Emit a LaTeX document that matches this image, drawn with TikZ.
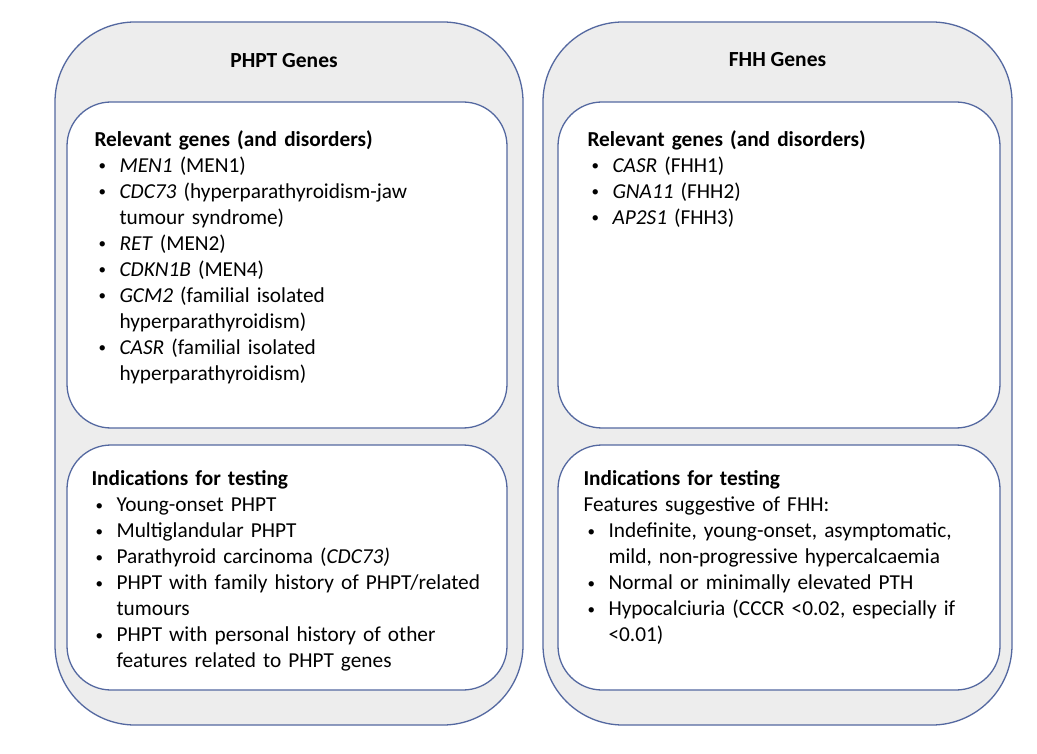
\documentclass[tikz,border=0pt]{standalone}
\usepackage{fontspec}
\setmainfont{Carlito}
\usetikzlibrary{positioning}

\definecolor{boxline}{RGB}{84,104,160}
\definecolor{boxfill}{RGB}{237,237,237}

% bullet line with hanging indent
\newcommand{\gbullet}{\par\noindent\hangindent=25pt\hangafter=1\hbox to 25pt{\hskip4pt\raisebox{1.5pt}{\fontsize{15}{15}\selectfont\textbullet}\hfil}}
\newcommand{\gbreak}{\hfil\break}

\begin{document}
\begin{tikzpicture}[
    x=1pt, y=-1pt,
    outerbox/.style={rectangle, draw=boxline, fill=boxfill, line width=1.3pt, rounded corners=80pt, minimum width=468pt, minimum height=703pt},
    innerbox/.style={rectangle, draw=boxline, fill=white, line width=1.3pt, rounded corners=44pt, minimum width=440pt},
    title/.style={font=\fontsize{21.5}{24}\selectfont\bfseries, inner sep=0pt},
    txt/.style={inner sep=0pt, text width=420pt, font=\fontsize{21.3}{26}\selectfont}
]
\useasboundingbox[fill=white] (0,0) rectangle (1037,754);

% outer panels
\node[outerbox] (phpt) at (289,373.5) {};
\node[outerbox, minimum width=469pt] (fhh) at (777.5,373.5) {};

\node[title] (phpttitle) at (284,61) {PHPT Genes};
\node[title] (fhhtitle) at (777.5,60) {FHH Genes};

% inner boxes
\node[innerbox, minimum height=326pt] (phptgenes) at (287,265) {};
\node[innerbox, minimum height=245pt] (phpttest) at (287,567.5) {};
\node[innerbox, minimum width=442pt, minimum height=326pt] (fhhgenes) at (779,265) {};
\node[innerbox, minimum width=442pt, minimum height=245pt] (fhhtest) at (779,567.5) {};

% texts
\node[txt, below right=29pt and 28pt of phptgenes.north west] (phptgenestxt) {%
    \textbf{Relevant genes (and disorders)}
    \gbullet\textit{MEN1} (MEN1)
    \gbullet\textit{CDC73} (hyperparathyroidism-jaw\gbreak tumour syndrome)
    \gbullet\textit{RET} (MEN2)
    \gbullet\textit{CDKN1B} (MEN4)
    \gbullet\textit{GCM2} (familial isolated\gbreak hyperparathyroidism)
    \gbullet\textit{CASR} (familial isolated\gbreak hyperparathyroidism)\par};

\node[txt, below right=26pt and 25pt of phpttest.north west] (phpttesttxt) {%
    \textbf{Indications for testing}
    \gbullet Young-onset PHPT
    \gbullet Multiglandular PHPT
    \gbullet Parathyroid carcinoma (\textit{CDC73)}
    \gbullet PHPT with family history of PHPT/related\gbreak tumours
    \gbullet PHPT with personal history of other\gbreak features related to PHPT genes\par};

\node[txt, below right=29pt and 30pt of fhhgenes.north west] (fhhgenestxt) {%
    \textbf{Relevant genes (and disorders)}
    \gbullet\textit{CASR} (FHH1)
    \gbullet\textit{GNA11} (FHH2)
    \gbullet\textit{AP2S1} (FHH3)\par};

\node[txt, below right=26pt and 26pt of fhhtest.north west] (fhhtesttxt) {%
    \textbf{Indications for testing}
    \par\noindent Features suggestive of FHH:
    \gbullet Indefinite, young-onset, asymptomatic,\gbreak mild, non-progressive hypercalcaemia
    \gbullet Normal or minimally elevated PTH
    \gbullet Hypocalciuria (CCCR <0.02, especially if\gbreak <0.01)\par};

\end{tikzpicture}
\end{document}
